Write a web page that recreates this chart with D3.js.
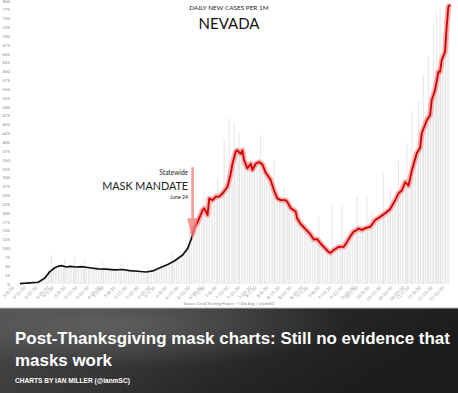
<!DOCTYPE html>
<html><head><meta charset="utf-8">
<script src="https://cdn.jsdelivr.net/npm/d3@7"></script>
<style>html,body{margin:0;padding:0;background:#fff;}svg{display:block;}</style>
</head><body>
<svg id="c" width="458" height="393"></svg>
<script>
// ---- data (7-day average daily new cases per 1M, Nevada, 2020) ----
const beforeDates = ["3/12","3/18","3/23","3/24","3/27","3/30","4/2","4/4","4/6","4/9","4/11","4/15","4/18","4/23","4/28","5/3","5/8","5/13","5/17","5/22","5/27","5/31","6/4","6/9","6/13","6/18","6/21","6/23","6/24"];
const beforeValues = [1,3,5,8,17,35,46,50,52,48,50,48,49,46,43,42,40,41,38,36,34,37,45,55,65,82,100,125,140];
const afterDates = ["6/24","6/25","6/27","6/28","6/30","7/1","7/3","7/4","7/6","7/8","7/10","7/12","7/15","7/17","7/18","7/20","7/21","7/23","7/24","7/25","7/27","7/29","7/30","8/1","8/3","8/5","8/7","8/10","8/12","8/14","8/16","8/19","8/20","8/22","8/25","8/26","8/28","8/30","9/1","9/3","9/5","9/7","9/9","9/11","9/14","9/15","9/17","9/20","9/23","9/25","9/27","9/29","9/30","10/2","10/4","10/6","10/9","10/12","10/15","10/18","10/21","10/24","10/26","10/28","10/30","11/1","11/3","11/6","11/8","11/9","11/12","11/14","11/15","11/17","11/19","11/20","11/21","11/23","11/24","11/25","11/26"];
const afterValues = [140,158,175,186,209,214,195,242,237,247,247,256,275,313,340,375,378,368,378,350,327,340,322,340,345,338,315,294,265,242,237,237,232,215,205,185,170,160,150,140,126,127,115,105,90,88,96,105,105,119,135,148,150,157,153,158,162,181,190,200,212,237,256,265,288,278,320,370,385,426,463,477,520,548,600,600,633,656,727,783,790];
// visible daily spikes (raw daily values)
const spikeDates = ["3/31","4/8","4/14","4/20","5/1","5/12","5/28","6/12","6/22","7/1","7/9","7/13","7/16","7/19","7/22","8/4","8/12","8/18","8/21","9/8","9/16","9/22","10/1","10/7","10/10","10/17","10/21","10/26","10/31","11/3","11/7","11/10","11/13","11/16","11/18","11/20"];
const spikeValues = [82,73,75,72,62,60,48,85,150,260,300,410,469,458,430,420,350,274,200,190,225,223,250,245,205,313,270,350,398,490,520,590,645,737,765,780];
const yTicks = d3.range(0, 801, 25);
const xTickStart = "3/5", xTickEnd = "11/26", mandateDate = "6/24";

const parse = s => { const [m, d] = s.split("/").map(Number); return new Date(2020, m - 1, d); };
const fmt = d => `${d.getMonth() + 1}/${d.getDate()}/20`;

const svg = d3.select("#c");
const x = d3.scaleTime().domain([parse(xTickStart), parse(xTickEnd)]).range([8.3, 450]);
const y = d3.scaleLinear().domain([0, 800]).range([284, 1]);

svg.append("rect").attr("x", 0).attr("y", 0).attr("width", 458).attr("height", 308).attr("fill", "#fff");

// daily bars hinted as striped area under the average
const pxDay = x(parse("3/6")) - x(parse("3/5"));
const defs = svg.append("defs");
const pat = defs.append("pattern").attr("id", "stripes").attr("patternUnits", "userSpaceOnUse")
  .attr("width", pxDay).attr("height", 10).attr("x", x(parse(xTickStart)));
pat.append("rect").attr("width", pxDay * 0.55).attr("height", 10).attr("fill", "#e6e6e6");

const before = beforeDates.map((d, i) => ({ d: parse(d), v: beforeValues[i] }));
const after = afterDates.map((d, i) => ({ d: parse(d), v: afterValues[i] }));
const all = before.concat(after.slice(1));
svg.append("path").datum(all)
  .attr("d", d3.area().x(p => x(p.d)).y0(y(0)).y1(p => y(p.v)))
  .attr("fill", "url(#stripes)");

svg.append("g").selectAll("line").data(spikeDates.map((d, i) => ({ d: parse(d), v: spikeValues[i] })))
  .join("line").attr("x1", p => x(p.d)).attr("x2", p => x(p.d))
  .attr("y1", y(0)).attr("y2", p => y(p.v)).attr("stroke", "#e0e0e0").attr("stroke-width", 0.8);

// y axis labels
svg.append("g").selectAll("text").data(yTicks).join("text")
  .attr("x", 10).attr("y", v => y(v) + 1.5).attr("text-anchor", "end")
  .attr("font-family", "Lato, sans-serif").attr("font-size", 4.3).attr("fill", "#888").text(v => v);

// x axis labels
const xTicks = d3.timeDay.every(7).range(parse(xTickStart), d3.timeDay.offset(parse(xTickEnd), 1));
svg.append("g").selectAll("text").data(xTicks).join("text")
  .attr("transform", d => `translate(${x(d) + 1},${288}) rotate(-45)`)
  .attr("text-anchor", "end").attr("font-family", "Lato, sans-serif").attr("font-size", 4.3)
  .attr("fill", "#999").text(fmt);

svg.append("text").attr("x", 229).attr("y", 305).attr("text-anchor", "middle")
  .attr("font-family", "Lato, sans-serif").attr("font-size", 3.8).attr("fill", "#888")
  .text("Source: Covid Tracking Project - 7 Day Avg. / @ianmSC");

// lines
const line = d3.line().x(p => x(p.d)).y(p => y(p.v));
svg.append("path").datum(before).attr("d", line).attr("fill", "none")
  .attr("stroke", "#111").attr("stroke-width", 1.7).attr("stroke-linejoin", "round");
svg.append("path").datum(after).attr("d", line).attr("fill", "none")
  .attr("stroke", "#f29a9a").attr("stroke-opacity", 0.75).attr("stroke-width", 5.5).attr("stroke-linejoin", "round");
svg.append("path").datum(after).attr("d", line).attr("fill", "none")
  .attr("stroke", "#d40000").attr("stroke-width", 1.8).attr("stroke-linejoin", "round");

// mandate arrow
const mx = x(parse(mandateDate));
const arrTop = y(330), headBase = y(186), tip = y(124);
svg.append("path")
  .attr("d", `M${mx - 1.3},${arrTop}L${mx + 1.3},${arrTop}L${mx + 1.3},${headBase}L${mx + 5.5},${headBase}L${mx},${tip}L${mx - 5.5},${headBase}L${mx - 1.3},${headBase}Z`)
  .attr("fill", "#f07575").attr("fill-opacity", 0.75);
const ann = svg.append("g").attr("font-family", "Lato, sans-serif").attr("text-anchor", "end").attr("fill", "#222");
ann.append("text").attr("x", mx - 4.5).attr("y", 174.5).attr("font-size", 6.6).text("Statewide");
ann.append("text").attr("x", mx - 4.5).attr("y", 189.5).attr("font-size", 10.8).text("MASK MANDATE");
ann.append("text").attr("x", mx - 4.5).attr("y", 198.5).attr("font-size", 5.2).text("June 24");

// chart titles
svg.append("text").attr("x", 229).attr("y", 9.5).attr("text-anchor", "middle")
  .attr("font-family", "Lato, sans-serif").attr("font-size", 6.4).attr("fill", "#222").text("DAILY NEW CASES PER 1M");
svg.append("text").attr("x", 229).attr("y", 28.5).attr("text-anchor", "middle")
  .attr("font-family", "Lato, sans-serif").attr("font-size", 15).attr("fill", "#111").text("NEVADA");

// banner
const g1 = defs.append("linearGradient").attr("id", "bg").attr("x1", 0).attr("y1", 0).attr("x2", 1).attr("y2", 0.3);
g1.append("stop").attr("offset", 0).attr("stop-color", "#4a4a4a");
g1.append("stop").attr("offset", 0.35).attr("stop-color", "#3a3a3a");
g1.append("stop").attr("offset", 0.7).attr("stop-color", "#262626");
g1.append("stop").attr("offset", 1).attr("stop-color", "#1c1c1c");
svg.append("rect").attr("x", 0).attr("y", 308).attr("width", 458).attr("height", 85).attr("fill", "url(#bg)");
const g2 = defs.append("radialGradient").attr("id", "glow").attr("cx", 0.25).attr("cy", 0.2).attr("r", 0.5);
g2.append("stop").attr("offset", 0).attr("stop-color", "#888").attr("stop-opacity", 0.45);
g2.append("stop").attr("offset", 1).attr("stop-color", "#888").attr("stop-opacity", 0);
svg.append("rect").attr("x", 0).attr("y", 308).attr("width", 458).attr("height", 85).attr("fill", "url(#glow)");
svg.append("line").attr("x1", 0).attr("x2", 458).attr("y1", 308).attr("y2", 308).attr("stroke", "#bbb").attr("stroke-width", 1);

const t1 = svg.append("text").attr("x", 15).attr("y", 344).attr("font-family", "'Liberation Sans', Arial, sans-serif")
  .attr("font-weight", "bold").attr("font-size", 18).attr("fill", "#fff")
  .text("Post-Thanksgiving mask charts: Still no evidence that");
const w = t1.node().getComputedTextLength();
const fs = 18 * 435 / w;
t1.attr("font-size", fs);
svg.append("text").attr("x", 15).attr("y", 366).attr("font-family", "'Liberation Sans', Arial, sans-serif")
  .attr("font-weight", "bold").attr("font-size", fs).attr("fill", "#fff").text("masks work");
const t3 = svg.append("text").attr("x", 15).attr("y", 383).attr("font-family", "'Liberation Sans', Arial, sans-serif")
  .attr("font-weight", "bold").attr("font-size", 7).attr("fill", "#fff").text("CHARTS BY IAN MILLER (@ianmSC)");
const w3 = t3.node().getComputedTextLength();
t3.attr("font-size", 7 * 115 / w3);
</script>
</body></html>
